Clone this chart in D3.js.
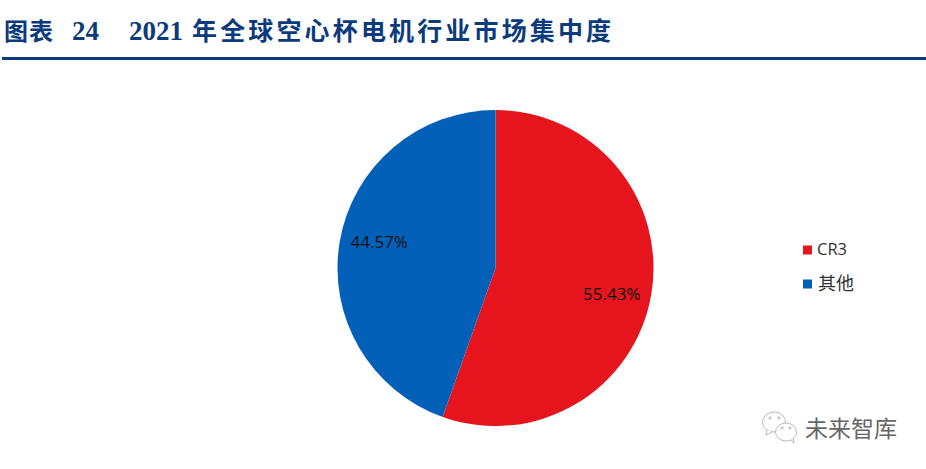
<!DOCTYPE html>
<html>
<head>
<meta charset="utf-8">
<script src="https://cdn.jsdelivr.net/npm/d3@7/dist/d3.min.js"></script>
<style>
html, body { margin: 0; padding: 0; background: #fff; }
svg { display: block; }
</style>
</head>
<body>
<script>
const categories = ["CR3", "其他"];
const shares = [55.43, 44.57];
const sliceColors = ["#E5141D", "#0360B8"];

const width = 926, height = 469;
const navy = "#0B3B7C";
const cjk = "'Noto Sans CJK SC', sans-serif";

const svg = d3.select("body").append("svg")
    .attr("width", width)
    .attr("height", height);

// header
svg.append("text").attr("x", 4).attr("y", 40)
    .attr("font-family", cjk).attr("font-weight", 700).attr("font-size", 24)
    .attr("letter-spacing", 1).attr("fill", navy).text("图表");
svg.append("text").attr("x", 72).attr("y", 40)
    .attr("font-family", "'Liberation Serif', serif").attr("font-weight", 700).attr("font-size", 27)
    .attr("fill", navy).text("24");
svg.append("text").attr("x", 129).attr("y", 40)
    .attr("font-family", "'Liberation Serif', serif").attr("font-weight", 700).attr("font-size", 27)
    .attr("fill", navy).text("2021");
svg.append("text").attr("x", 192).attr("y", 40)
    .attr("font-family", cjk).attr("font-weight", 700).attr("font-size", 25)
    .attr("letter-spacing", 3.15).attr("fill", navy).text("年全球空心杯电机行业市场集中度");
svg.append("rect").attr("x", 2).attr("y", 57).attr("width", 924).attr("height", 3).attr("fill", navy);

// pie
const cx = 495.5, cy = 268, radius = 158;
const pie = d3.pie().sort(null).value(d => d)(shares);
const arc = d3.arc().innerRadius(0).outerRadius(radius);

const g = svg.append("g").attr("transform", `translate(${cx},${cy})`);
g.selectAll("path")
    .data(pie)
    .enter()
    .append("path")
    .attr("d", arc)
    .attr("fill", (d, i) => sliceColors[i]);

// labels sit near the outer edge, pushed a bit away from the horizontal
const labelArc = d3.arc().innerRadius(118).outerRadius(118);
g.selectAll("text")
    .data(pie)
    .enter()
    .append("text")
    .attr("transform", d => {
        const c = labelArc.centroid(d);
        return `translate(${c[0]},${c[1] * 1.3 + 1.5})`;
    })
    .attr("text-anchor", "middle")
    .attr("dominant-baseline", "middle")
    .attr("font-family", "'Open Sans', sans-serif")
    .attr("font-size", 17)
    .attr("fill", "#111")
    .text(d => d.value.toFixed(2) + "%");

// legend
const legendY = d3.scalePoint().domain(categories).range([250, 284]);
const legend = svg.selectAll("g.legend")
    .data(categories)
    .enter()
    .append("g")
    .attr("class", "legend")
    .attr("transform", d => `translate(803,${legendY(d)})`);
legend.append("rect")
    .attr("x", 0).attr("y", -4.5).attr("width", 9).attr("height", 9)
    .attr("fill", (d, i) => sliceColors[i]);
legend.append("text")
    .attr("x", (d, i) => i === 0 ? 14 : 15).attr("y", 1)
    .attr("dominant-baseline", "middle")
    .attr("font-family", "'Open Sans', 'Noto Sans CJK SC', sans-serif")
    .attr("font-size", (d, i) => i === 0 ? 16.5 : 18)
    .attr("fill", "#333")
    .text(d => d);

// watermark
const mark = svg.append("g").attr("fill", "#fff").attr("stroke", "#aaa").attr("stroke-width", 0.8);
mark.append("ellipse").attr("cx", 774).attr("cy", 422).attr("rx", 11.5).attr("ry", 10);
mark.append("path").attr("d", "M767 430 L766 435 L772 432");
mark.append("ellipse").attr("cx", 786).attr("cy", 432).attr("rx", 10.5).attr("ry", 9);
mark.append("path").attr("d", "M791 440 L794 443 L793 438");
[[770, 418], [779, 418], [782, 428], [790, 428]].forEach(p => {
    mark.append("circle").attr("cx", p[0]).attr("cy", p[1]).attr("r", 1.2).attr("fill", "none");
});
svg.append("text").attr("x", 805).attr("y", 437)
    .attr("font-family", cjk).attr("font-size", 23)
    .attr("fill", "#666").text("未来智库");
</script>
</body>
</html>
